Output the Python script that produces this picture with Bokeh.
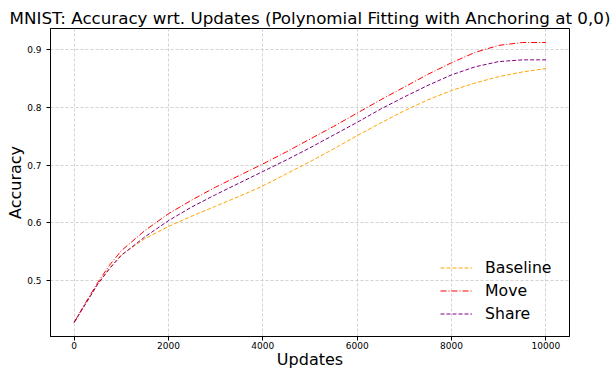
from bokeh.plotting import figure
from bokeh.models import FixedTicker, Legend, LegendItem, Range1d
from bokeh.embed import file_html
from bokeh.resources import INLINE

# ---- data ----
updates = [0, 250, 500, 750, 1000, 1500, 2000, 2500, 3000, 3500, 4000, 4500,
           5000, 5500, 6000, 6500, 7000, 7500, 8000, 8500, 9000, 9500, 10000]
baseline = [0.428, 0.462, 0.495, 0.522, 0.545, 0.573, 0.594, 0.612, 0.629, 0.646,
            0.664, 0.685, 0.706, 0.728, 0.751, 0.773, 0.794, 0.813, 0.829, 0.842,
            0.853, 0.861, 0.867]
move = [0.428, 0.463, 0.497, 0.527, 0.552, 0.587, 0.616, 0.640, 0.662, 0.682,
        0.702, 0.723, 0.745, 0.767, 0.790, 0.813, 0.835, 0.857, 0.877, 0.895,
        0.907, 0.912, 0.912]
share = [0.428, 0.461, 0.494, 0.521, 0.544, 0.576, 0.604, 0.628, 0.649, 0.669,
         0.689, 0.709, 0.730, 0.752, 0.774, 0.797, 0.818, 0.838, 0.856, 0.870,
         0.879, 0.882, 0.882]
x_ticks = [0, 2000, 4000, 6000, 8000, 10000]
y_ticks = [0.5, 0.6, 0.7, 0.8, 0.9]
series_names = ["Baseline", "Move", "Share"]

FONT = "DejaVu Sans"

p = figure(width=610, height=372, output_backend="svg", toolbar_location=None,
           title="MNIST: Accuracy wrt. Updates (Polynomial Fitting with Anchoring at 0,0)",
           x_range=Range1d(-500, 10500), y_range=Range1d(0.4038, 0.9362))

p.min_border_left = 50
p.min_border_right = 41
p.min_border_top = 28
p.min_border_bottom = 36
p.background_fill_color = "white"
p.border_fill_color = "white"
p.outline_line_color = "black"
p.outline_line_width = 1

p.title.text_font = FONT
p.title.text_font_size = "16.7px"
p.title.text_font_style = "normal"
p.title.text_color = "black"
p.title.align = "center"
p.title.standoff = 2

for ax in (p.xaxis[0], p.yaxis[0]):
    ax.axis_line_color = "black"
    ax.major_tick_line_color = "black"
    ax.major_tick_in = 0
    ax.major_tick_out = 4
    ax.minor_tick_line_color = None
    ax.major_label_text_font = FONT
    ax.major_label_text_font_size = "9px"
    ax.major_label_text_color = "black"
    ax.major_label_text_line_height = 1.0
    ax.axis_label_text_font = FONT
    ax.axis_label_text_font_size = "16px"
    ax.axis_label_text_font_style = "normal"
    ax.axis_label_text_color = "black"
    ax.axis_label_text_line_height = 0.8

p.xaxis.axis_label = "Updates"
p.yaxis.axis_label = "Accuracy"
p.xaxis.ticker = FixedTicker(ticks=x_ticks)
p.yaxis.ticker = FixedTicker(ticks=y_ticks)
p.xaxis.major_label_standoff = 1
p.xaxis.axis_label_standoff = -2
p.yaxis.major_label_standoff = 5
p.yaxis.axis_label_standoff = -1

p.grid.grid_line_color = "#c8c8c8"
p.grid.grid_line_dash = "3 2"
p.grid.grid_line_width = 0.8

r_base = p.line(updates, baseline, line_color="orange", line_dash="4 2", line_width=1)
r_move = p.line(updates, move, line_color="red", line_dash="6 2 1 2", line_width=1)
r_share = p.line(updates, share, line_color="purple", line_dash="4 2", line_width=1)

legend = Legend(items=[LegendItem(label=series_names[0], renderers=[r_base]),
                       LegendItem(label=series_names[1], renderers=[r_move]),
                       LegendItem(label=series_names[2], renderers=[r_share])],
                location=(390, 11))
legend.background_fill_alpha = 0
legend.border_line_color = None
legend.label_text_font = FONT
legend.label_text_font_size = "15.7px"
legend.label_text_color = "black"
legend.glyph_width = 32
legend.glyph_height = 23
legend.label_height = 23
legend.spacing = 0
legend.padding = 0
legend.margin = 0
legend.label_standoff = 13
p.add_layout(legend)

open("out.html", "w").write(file_html(p, INLINE))
